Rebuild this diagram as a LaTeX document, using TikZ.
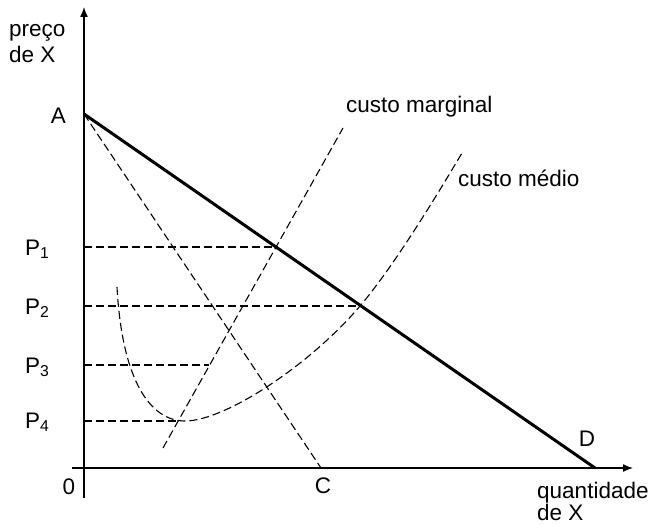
\documentclass[tikz,border=0pt]{standalone}
\usepackage{fontspec}
\setmainfont{Liberation Sans}
\usetikzlibrary{arrows.meta}

\begin{document}
\begin{tikzpicture}
    [x=1pt,y=-1pt,>={Latex[length=10pt,width=8pt]},
     every node/.style={font=\fontsize{22.5}{24}\selectfont,inner sep=0pt},
     axis/.style={line width=1.4pt},
     guide/.style={line width=1.1pt,dash pattern=on 8pt off 4pt}]
\useasboundingbox (0,0) rectangle (652,524);
\path
    (84,498) coordinate (ybot)
    (84,7) coordinate (ytop)
    (72,468) coordinate (xleft)
    (633,468) coordinate (xright)
    (84,114) coordinate (a)
    (595,468) coordinate (d)
    (321,468) coordinate (c)
    (163,448) coordinate (mcstart)
    (343,128) coordinate (mcend)
    (117,287) coordinate (acstart)
    (185,421) coordinate (acmin)
    (360,306) coordinate (acmid)
    (462,153) coordinate (acend)
    (84,247) coordinate (p1)
    (84,306) coordinate (p2)
    (84,365) coordinate (p3)
    (84,421) coordinate (p4)
    (276,247) coordinate (p1end)
    (360,306) coordinate (p2end)
    (209,365) coordinate (p3end)
    (180,421) coordinate (p4end);
\draw [axis,->] (ybot) -- (ytop);
\draw [axis,->] (xleft) -- (xright);
\draw [line width=3pt] (a) -- (d);
\draw [guide] (a) -- (c);
\draw [guide] (p1) -- (p1end);
\draw [guide] (p2) -- (p2end);
\draw [guide] (p3) -- (p3end);
\draw [guide] (p4) -- (p4end);
\draw [guide] (mcstart) -- (mcend);
\draw [guide]
    (acstart) .. controls (122,380) and (150,421) .. (acmin)
    .. controls (225,421) and (310,365) .. (acmid)
    .. controls (395,265) and (440,190) .. (acend);
% labels
\path
    (9,37) node [anchor=base west] (preco) {preço}
    (9,63) node [anchor=base west] (precox) {de X}
    (58.5,123) node [anchor=base] (alabel) {A}
    (25,255) node [anchor=base west] (p1label) {P\textsubscript{1}}
    (25,314) node [anchor=base west] (p2label) {P\textsubscript{2}}
    (25,373) node [anchor=base west] (p3label) {P\textsubscript{3}}
    (25,428) node [anchor=base west] (p4label) {P\textsubscript{4}}
    (69,494) node [anchor=base] (zero) {0}
    (323,493) node [anchor=base] (clabel) {C}
    (587,446) node [anchor=base] (dlabel) {D}
    (346,113) node [anchor=base west] (mc) {custo marginal}
    (458,186) node [anchor=base west] (ac) {custo médio}
    (537,498) node [anchor=base west] (qty) {quantidade}
    (537,520) node [anchor=base west] (qtyx) {de X};
\end{tikzpicture}
\end{document}
